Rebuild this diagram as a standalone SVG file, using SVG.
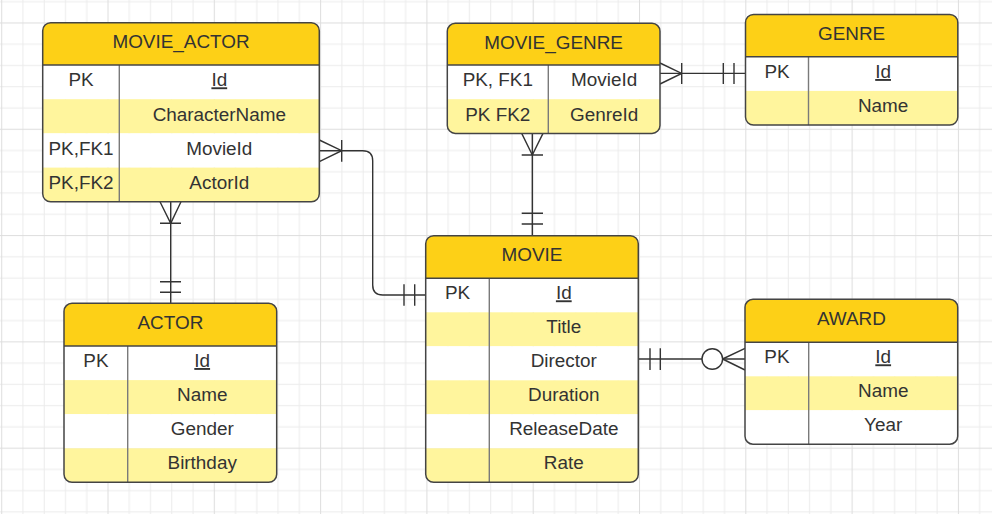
<svg xmlns="http://www.w3.org/2000/svg" width="992" height="514" viewBox="0 0 992 514">
<style>
.hd{fill:#fdd017}
.ry{fill:#fff59d}
.rw{fill:#ffffff}
.ol{fill:none;stroke:#444;stroke-width:1.5}
.hl{stroke:#444;stroke-width:1.5}
.cd{stroke:#7a7a7a;stroke-width:1.4}
text{font-family:"Liberation Sans",Arial,sans-serif;font-size:18.9px;fill:#333;text-anchor:middle}
.u{text-decoration:underline}
.cn{fill:none;stroke:#333;stroke-width:1.4}
</style>
<defs>
<pattern id="grid" x="1.2" y="22.46" width="106.3" height="106.3" patternUnits="userSpaceOnUse">
<rect width="106.3" height="106.3" fill="#fff"/>
<g fill="#ececec">
<rect x="21.26" y="0" width="1" height="106.3"/>
<rect x="42.52" y="0" width="1" height="106.3"/>
<rect x="63.78" y="0" width="1" height="106.3"/>
<rect x="85.04" y="0" width="1" height="106.3"/>
<rect x="0" y="21.26" width="106.3" height="1"/>
<rect x="0" y="42.52" width="106.3" height="1"/>
<rect x="0" y="63.78" width="106.3" height="1"/>
<rect x="0" y="85.04" width="106.3" height="1"/>
</g>
<g fill="#dedede">
<rect x="0" y="0" width="1" height="106.3"/>
<rect x="0" y="0" width="106.3" height="1"/>
</g>
</pattern>
<clipPath id="cMA"><rect x="42.7" y="22.7" width="276.6" height="179.1" rx="8"/></clipPath>
<clipPath id="cMG"><rect x="447.3" y="23.3" width="212.7" height="110.1" rx="8"/></clipPath>
<clipPath id="cG"><rect x="745.5" y="14.5" width="212.3" height="110.6" rx="8"/></clipPath>
<clipPath id="cM"><rect x="425.7" y="235.7" width="212.6" height="246.6" rx="8"/></clipPath>
<clipPath id="cA"><rect x="64" y="303.3" width="212.7" height="179" rx="8"/></clipPath>
<clipPath id="cAW"><rect x="745" y="299.3" width="212.7" height="144.9" rx="8"/></clipPath>
</defs>
<rect width="992" height="514" fill="url(#grid)"/>

<g id="connectors">
<!-- MOVIE_ACTOR - ACTOR -->
<g id="c-ma-actor">
<path class="cn" d="M170.7,201.7V303.3"/>
<path class="cn" d="M160,201.7L170.7,223.3L181,201.7M160,223.3H181M160,281.7H181M160,292.3H181"/>
</g>
<!-- MOVIE_ACTOR - MOVIE -->
<g id="c-ma-movie">
<path class="cn" d="M319.3,150.7H362.7Q372.7,150.7 372.7,160.7V285Q372.7,295 382.7,295H425.7"/>
<path class="cn" d="M319.3,140L341.7,150.7L319.3,161.7M341.7,140V161.7M404,284.3V305.7M414.7,284.3V305.7"/>
</g>
<!-- MOVIE_GENRE - GENRE -->
<g id="c-mg-genre">
<path class="cn" d="M660,73.4H745.5"/>
<path class="cn" d="M660,63L681.7,73.4L660,84M681.7,63V84M723.3,63V84M734,63V84"/>
</g>
<!-- MOVIE_GENRE - MOVIE -->
<g id="c-mg-movie">
<path class="cn" d="M532.3,133.4V235.7"/>
<path class="cn" d="M521.7,133.4L532.3,155L543,133.4M521.7,155H543M521.7,213.3H543M521.7,224H543"/>
</g>
<!-- MOVIE - AWARD -->
<g id="c-movie-award">
<path class="cn" d="M638.3,359H745"/>
<path class="cn" d="M650,348.3V370M660.3,348.3V370M722.6,359L745,348.3M722.6,359L745,370"/>
<circle cx="712.3" cy="359" r="10.3" fill="#fff" stroke="#333" stroke-width="1.4"/>
</g>
</g>

<g id="MOVIE_ACTOR">
<g clip-path="url(#cMA)">
<rect class="hd" x="42.7" y="22.7" width="276.6" height="42.3"/>
<rect class="rw" x="42.7" y="65" width="276.6" height="34.2"/>
<rect class="ry" x="42.7" y="99.2" width="276.6" height="34.2"/>
<rect class="rw" x="42.7" y="133.4" width="276.6" height="34.2"/>
<rect class="ry" x="42.7" y="167.6" width="276.6" height="34.2"/>
</g>
<line class="cd" x1="119.3" y1="65" x2="119.3" y2="201.8"/>
<line class="hl" x1="42.7" y1="65" x2="319.3" y2="65"/>
<rect class="ol" x="42.7" y="22.7" width="276.6" height="179.1" rx="8"/>
<text x="181" y="48.4">MOVIE_ACTOR</text>
<text x="81" y="86.3">PK</text>
<text class="u" x="219.3" y="86.3">Id</text>
<text x="219.3" y="120.5">CharacterName</text>
<text x="81" y="154.7">PK,FK1</text>
<text x="219.3" y="154.7">MovieId</text>
<text x="81" y="188.9">PK,FK2</text>
<text x="219.3" y="188.9">ActorId</text>
</g>

<g id="MOVIE_GENRE">
<g clip-path="url(#cMG)">
<rect class="hd" x="447.3" y="23.3" width="212.7" height="41.7"/>
<rect class="rw" x="447.3" y="65" width="212.7" height="34.2"/>
<rect class="ry" x="447.3" y="99.2" width="212.7" height="34.2"/>
</g>
<line class="cd" x1="548.3" y1="65" x2="548.3" y2="133.4"/>
<line class="hl" x1="447.3" y1="65" x2="660" y2="65"/>
<rect class="ol" x="447.3" y="23.3" width="212.7" height="110.1" rx="8"/>
<text x="553.6" y="48.7">MOVIE_GENRE</text>
<text x="497.8" y="86.3">PK, FK1</text>
<text x="604.2" y="86.3">MovieId</text>
<text x="497.8" y="120.5">PK FK2</text>
<text x="604.2" y="120.5">GenreId</text>
</g>

<g id="GENRE">
<g clip-path="url(#cG)">
<rect class="hd" x="745.5" y="14.5" width="212.3" height="42.2"/>
<rect class="rw" x="745.5" y="56.7" width="212.3" height="34.2"/>
<rect class="ry" x="745.5" y="90.9" width="212.3" height="34.2"/>
</g>
<line class="cd" x1="808.5" y1="56.7" x2="808.5" y2="125.1"/>
<line class="hl" x1="745.5" y1="56.7" x2="957.8" y2="56.7"/>
<rect class="ol" x="745.5" y="14.5" width="212.3" height="110.6" rx="8"/>
<text x="851.6" y="40.1">GENRE</text>
<text x="777" y="78">PK</text>
<text class="u" x="883.1" y="78">Id</text>
<text x="883.1" y="112.2">Name</text>
</g>

<g id="MOVIE">
<g clip-path="url(#cM)">
<rect class="hd" x="425.7" y="235.7" width="212.6" height="42.6"/>
<rect class="rw" x="425.7" y="278.3" width="212.6" height="34"/>
<rect class="ry" x="425.7" y="312.3" width="212.6" height="34"/>
<rect class="rw" x="425.7" y="346.3" width="212.6" height="34"/>
<rect class="ry" x="425.7" y="380.3" width="212.6" height="34"/>
<rect class="rw" x="425.7" y="414.3" width="212.6" height="34"/>
<rect class="ry" x="425.7" y="448.3" width="212.6" height="34"/>
</g>
<line class="cd" x1="489.3" y1="278.3" x2="489.3" y2="482.3"/>
<line class="hl" x1="425.7" y1="278.3" x2="638.3" y2="278.3"/>
<rect class="ol" x="425.7" y="235.7" width="212.6" height="246.6" rx="8"/>
<text x="532" y="261.3">MOVIE</text>
<text x="457.5" y="299.3">PK</text>
<text class="u" x="563.8" y="299.3">Id</text>
<text x="563.8" y="333.3">Title</text>
<text x="563.8" y="367.3">Director</text>
<text x="563.8" y="401.3">Duration</text>
<text x="563.8" y="435.3">ReleaseDate</text>
<text x="563.8" y="469.3">Rate</text>
</g>

<g id="ACTOR">
<g clip-path="url(#cA)">
<rect class="hd" x="64" y="303.3" width="212.7" height="42.7"/>
<rect class="rw" x="64" y="346" width="212.7" height="34.1"/>
<rect class="ry" x="64" y="380.1" width="212.7" height="34.1"/>
<rect class="rw" x="64" y="414.2" width="212.7" height="34.1"/>
<rect class="ry" x="64" y="448.3" width="212.7" height="34"/>
</g>
<line class="cd" x1="127.7" y1="346" x2="127.7" y2="482.3"/>
<line class="hl" x1="64" y1="346" x2="276.7" y2="346"/>
<rect class="ol" x="64" y="303.3" width="212.7" height="179" rx="8"/>
<text x="170.4" y="329.2">ACTOR</text>
<text x="95.9" y="367">PK</text>
<text class="u" x="202.2" y="367">Id</text>
<text x="202.2" y="401.1">Name</text>
<text x="202.2" y="435.2">Gender</text>
<text x="202.2" y="469.3">Birthday</text>
</g>

<g id="AWARD">
<g clip-path="url(#cAW)">
<rect class="hd" x="745" y="299.3" width="212.7" height="43"/>
<rect class="rw" x="745" y="342.3" width="212.7" height="34"/>
<rect class="ry" x="745" y="376.3" width="212.7" height="34"/>
<rect class="rw" x="745" y="410.3" width="212.7" height="34"/>
</g>
<line class="cd" x1="808.7" y1="342.3" x2="808.7" y2="444.2"/>
<line class="hl" x1="745" y1="342.3" x2="957.7" y2="342.3"/>
<rect class="ol" x="745" y="299.3" width="212.7" height="144.9" rx="8"/>
<text x="851.4" y="325.1">AWARD</text>
<text x="776.9" y="363.3">PK</text>
<text class="u" x="883.2" y="363.3">Id</text>
<text x="883.2" y="397.3">Name</text>
<text x="883.2" y="431.3">Year</text>
</g>
</svg>
